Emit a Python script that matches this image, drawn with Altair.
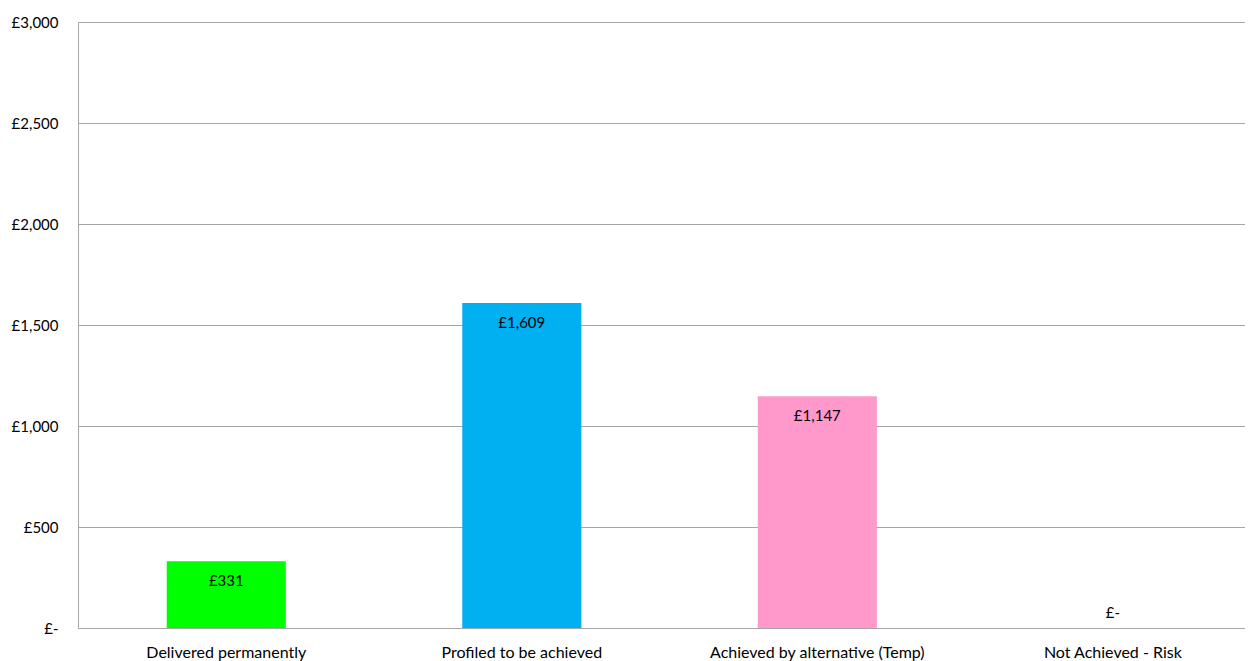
import altair as alt
import pandas as pd

categories = ["Delivered permanently", "Profiled to be achieved", "Achieved by alternative (Temp)", "Not Achieved - Risk"]
values = [331, 1609, 1147, 0]
colors = ["#00FF00", "#00B0F0", "#FF99CC", "#FFFFFF"]

df = pd.DataFrame({"category": categories, "value": values})
df["label"] = ["£-" if v == 0 else "£" + format(v, ",") for v in values]

FONT = "Lato"
FS = 15

x = alt.X("category:N", sort=categories, title=None,
          scale=alt.Scale(paddingInner=0.597, paddingOuter=0.273, align=0.55),
          axis=alt.Axis(labelAngle=0, ticks=False, domainColor="#a6a6a6", labelPadding=16,
                        labelLimit=0, labelFontSize=16, labelFont=FONT, labelColor="#000000"))
y = alt.Y("value:Q", title=None,
          scale=alt.Scale(domain=[0, 3000]),
          axis=alt.Axis(values=[0, 500, 1000, 1500, 2000, 2500, 3000], ticks=False,
                        grid=True, gridColor="#a6a6a6", domainColor="#a6a6a6",
                        labelPadding=20, labelFontSize=FS, labelFont=FONT, labelColor="#000000",
                        labelExpr="datum.value == 0 ? '£-' : '£' + format(datum.value, ',')"))

base = alt.Chart(df)

bars = base.mark_bar().encode(
    x=x, y=y,
    color=alt.Color("category:N", sort=categories,
                    scale=alt.Scale(domain=categories, range=colors), legend=None),
)

labels_in = base.transform_filter("datum.value > 0").mark_text(
    baseline="middle", dy=20, fontSize=FS, font=FONT, color="#000000"
).encode(x=alt.X("category:N", sort=categories), y="value:Q", text="label:N")

labels_zero = base.transform_filter("datum.value == 0").mark_text(
    baseline="middle", dy=-15, fontSize=FS, font=FONT, color="#000000"
).encode(x=alt.X("category:N", sort=categories), y="value:Q", text="label:N")

chart = alt.layer(bars, labels_in, labels_zero).properties(
    width=1167, height=606,
    autosize=alt.AutoSizeParams(type="none"),
    padding={"left": 70, "top": 14, "right": 0, "bottom": 33},
).configure_view(stroke=None).configure(background="#ffffff")

chart.save("out.html", embed_options={"renderer": "svg", "actions": False})
